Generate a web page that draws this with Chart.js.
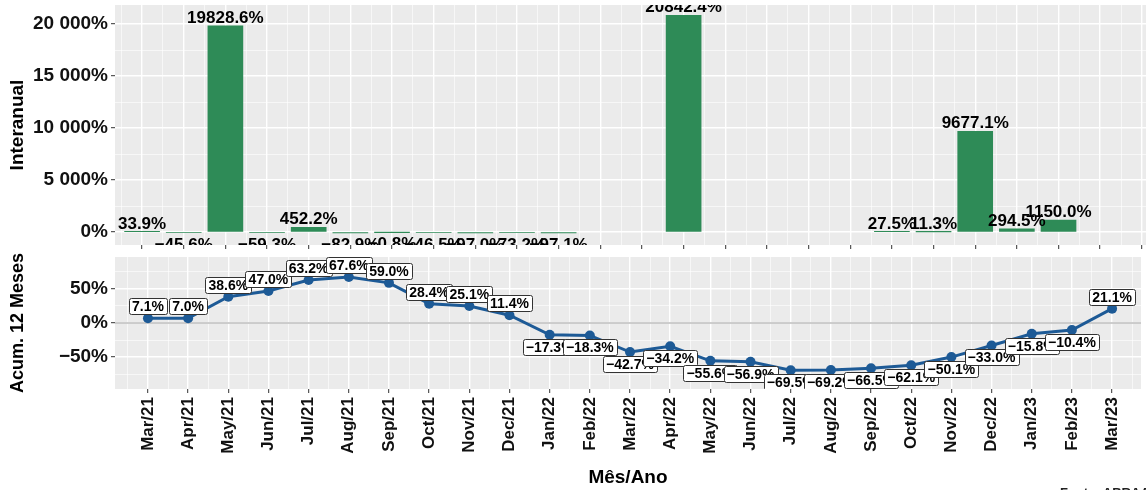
<!DOCTYPE html>
<html>
<head>
<meta charset="utf-8">
<script src="https://cdn.jsdelivr.net/npm/chart.js@4.4.1/dist/chart.umd.min.js"></script>
<style>
  html, body { margin: 0; padding: 0; background: #fff; }
  body { width: 1146px; height: 490px; position: relative; overflow: hidden; font-family: "Liberation Sans", Arial, sans-serif; }
  #top { position: absolute; left: 0; top: 0; }
  #bottom { position: absolute; left: 0; top: 250px; }
  #fonte { position: absolute; left: 1060px; top: 485px; font-weight: bold; font-size: 13px; color: #222; white-space: nowrap; }
</style>
</head>
<body>
<canvas id="top" width="1146" height="250"></canvas>
<canvas id="bottom" width="1146" height="240"></canvas>
<div id="fonte">Fonte: ABRAAL</div>
<script>
// months on the x axis
const months = ["Mar/21", "Apr/21", "May/21", "Jun/21", "Jul/21", "Aug/21", "Sep/21", "Oct/21", "Nov/21", "Dec/21",
  "Jan/22", "Feb/22", "Mar/22", "Apr/22", "May/22", "Jun/22", "Jul/22", "Aug/22", "Sep/22", "Oct/22", "Nov/22", "Dec/22",
  "Jan/23", "Feb/23", "Mar/23"];

// top panel: year-on-year change (%), null = no bar
const interanual = [33.9, -45.6, 19828.6, -59.3, 452.2, -82.9, -0.8, -46.5, -97.0, -73.2,
  -97.1, null, null, 20842.4, null, null, null, null, 27.5, 11.3, 9677.1, 294.5,
  1150.0, null, null];

// bottom panel: 12-month accumulated change (%)
const acum12 = [7.1, 7.0, 38.6, 47.0, 63.2, 67.6, 59.0, 28.4, 25.1, 11.4,
  -17.3, -18.3, -42.7, -34.2, -55.6, -56.9, -69.5, -69.2, -66.5, -62.1, -50.1, -33.0,
  -15.8, -10.4, 21.1];

const topYTicks = [0, 5000, 10000, 15000, 20000];
const bottomYTicks = [-50, 0, 50];

const FONT = "'Liberation Sans', Arial, Helvetica, sans-serif";
const PANEL = '#EBEBEB';
const GREEN = '#2E8B57';
const BLUE = '#1D5A96';
const AXIS_W = 115;

function pct(v) {
  return (v < 0 ? '\u2212' : '') + Math.abs(v).toFixed(1) + '%';
}
function tickPct(v) {
  const s = String(Math.abs(v)).replace(/\B(?=(\d{3})+(?!\d))/g, ' ');
  return (v < 0 ? '\u2212' : '') + s + '%';
}

// major ticks plus minor ones half way between
function withMinor(major, scale) {
  const step = major[1] - major[0];
  const out = [];
  major.forEach(v => { out.push({ value: v - step / 2 }); out.push({ value: v }); });
  out.push({ value: major[major.length - 1] + step / 2 });
  return out.filter(t => t.value >= scale.min && t.value <= scale.max);
}
const monthIdx = months.map((m, i) => i);

function gridOpts(majors) {
  return {
    color: '#fff',
    lineWidth: c => majors.includes(c.tick.value) ? 1.4 : 0.6,
    tickColor: c => majors.includes(c.tick.value) ? '#333' : 'rgba(0,0,0,0)',
    tickWidth: 1,
    tickLength: 4,
  };
}

// no extra room for labels hanging past the panel ends
function fitY(s) { s.width = AXIS_W; s.paddingTop = 0; s.paddingBottom = 0; }

const panelBg = {
  id: 'panelBg',
  beforeDraw(chart) {
    const { ctx, chartArea: a } = chart;
    ctx.save();
    ctx.fillStyle = PANEL;
    ctx.fillRect(a.left, a.top, a.right - a.left, a.bottom - a.top);
    ctx.restore();
  }
};

const barLabels = {
  id: 'barLabels',
  afterDatasetsDraw(chart) {
    const { ctx, chartArea: a } = chart;
    const meta = chart.getDatasetMeta(0);
    const pts = chart.data.datasets[0].data;
    ctx.save();
    ctx.beginPath();
    ctx.rect(a.left, a.top, a.right - a.left, a.bottom - a.top);
    ctx.clip();
    ctx.font = 'bold 17px ' + FONT;
    ctx.fillStyle = '#000';
    ctx.textAlign = 'center';
    meta.data.forEach((el, i) => {
      const v = pts[i].y;
      if (v >= 0) {
        ctx.textBaseline = 'alphabetic';
        ctx.fillText(pct(v), el.x, el.y - 3);
      } else {
        ctx.textBaseline = 'top';
        ctx.fillText(pct(v), el.x, el.y + 4);
      }
    });
    ctx.restore();
  }
};

const zeroLine = {
  id: 'zeroLine',
  beforeDatasetsDraw(chart) {
    const { ctx, chartArea: a, scales } = chart;
    const y = scales.y.getPixelForValue(0);
    ctx.save();
    ctx.strokeStyle = '#BDBDBD';
    ctx.lineWidth = 1.5;
    ctx.beginPath();
    ctx.moveTo(a.left, y);
    ctx.lineTo(a.right, y);
    ctx.stroke();
    ctx.restore();
  }
};

const pointLabels = {
  id: 'pointLabels',
  afterDatasetsDraw(chart) {
    const { ctx, chartArea: a } = chart;
    const meta = chart.getDatasetMeta(0);
    ctx.save();
    ctx.beginPath();
    ctx.rect(a.left, a.top, a.right - a.left, a.bottom - a.top);
    ctx.clip();
    ctx.font = 'bold 14px ' + FONT;
    ctx.textAlign = 'center';
    ctx.textBaseline = 'middle';
    meta.data.forEach((el, i) => {
      const v = acum12[i];
      const t = pct(v);
      const w = Math.round(ctx.measureText(t).width + 6);
      const h = 16;
      const cy = el.y + (v >= 0 ? -12 : 12);
      const x0 = Math.round(el.x - w / 2) + 0.5;
      const y0 = Math.round(cy - h / 2) + 0.5;
      ctx.beginPath();
      ctx.roundRect(x0, y0, w, h, 2);
      ctx.fillStyle = '#fff';
      ctx.fill();
      ctx.lineWidth = 1;
      ctx.strokeStyle = '#333';
      ctx.stroke();
      ctx.fillStyle = '#000';
      ctx.fillText(t, el.x, cy + 1);
    });
    ctx.restore();
  }
};

const yTickFont = { family: FONT, size: 19, weight: 'bold' };

new Chart(document.getElementById('top'), {
  type: 'bar',
  data: {
    datasets: [{
      data: interanual.map((v, i) => ({ x: i, y: v })).filter(p => p.y !== null),
      backgroundColor: GREEN,
      barThickness: 35,
    }]
  },
  options: {
    responsive: false,
    animation: false,
    devicePixelRatio: 1,
    layout: { padding: { top: 5, right: 0, bottom: 0, left: 0 } },
    plugins: { legend: { display: false }, tooltip: { enabled: false } },
    scales: {
      x: {
        type: 'linear', min: -0.65, max: 24.1, offset: false,
        afterBuildTicks: s => { s.ticks = withMinor(monthIdx, s); },
        ticks: { display: false },
        grid: Object.assign(gridOpts(monthIdx), { offset: false }),
        border: { display: false },
        afterFit: s => { s.height = 5; s.paddingLeft = 0; s.paddingRight = 0; }
      },
      y: {
        min: -1250, max: 21830,
        afterBuildTicks: s => { s.ticks = withMinor(topYTicks, s); },
        ticks: {
          callback: v => topYTicks.includes(v) ? tickPct(v) : '',
          autoSkip: false,
          font: yTickFont, color: '#111', padding: 3
        },
        grid: gridOpts(topYTicks),
        border: { display: false },
        title: { display: true, text: 'Interanual', font: { family: FONT, size: 19, weight: 'bold' }, color: '#000', padding: { top: 6, bottom: 0 } },
        afterFit: fitY
      }
    }
  },
  plugins: [panelBg, barLabels]
});

new Chart(document.getElementById('bottom'), {
  type: 'line',
  data: {
    datasets: [{
      data: acum12.map((v, i) => ({ x: i, y: v })),
      borderColor: BLUE,
      borderWidth: 3,
      pointRadius: 5,
      pointBackgroundColor: BLUE,
      pointBorderWidth: 0,
      tension: 0,
    }]
  },
  options: {
    responsive: false,
    animation: false,
    devicePixelRatio: 1,
    layout: { padding: { top: 7, right: 0, bottom: 0, left: 0 } },
    plugins: { legend: { display: false }, tooltip: { enabled: false } },
    scales: {
      x: {
        type: 'linear', min: -0.82, max: 24.72,
        afterBuildTicks: s => { s.ticks = withMinor(monthIdx, s); },
        ticks: {
          callback: v => Number.isInteger(v) ? months[v] : '',
          autoSkip: false, minRotation: 90, maxRotation: 90,
          font: { family: FONT, size: 17, weight: 'bold' }, color: '#111', padding: 4
        },
        grid: gridOpts(monthIdx),
        border: { display: false },
        title: { display: true, text: 'Mês/Ano', font: { family: FONT, size: 19, weight: 'bold' }, color: '#000', padding: { top: 2, bottom: 1 } },
        afterFit: s => { s.height = 101; s.paddingLeft = 0; s.paddingRight = 0; }
      },
      y: {
        min: -97, max: 97,
        afterBuildTicks: s => { s.ticks = withMinor(bottomYTicks, s); },
        ticks: {
          callback: v => bottomYTicks.includes(v) ? tickPct(v) : '',
          autoSkip: false,
          font: yTickFont, color: '#111', padding: 3
        },
        grid: gridOpts(bottomYTicks),
        border: { display: false },
        title: { display: true, text: 'Acum. 12 Meses', font: { family: FONT, size: 18, weight: 'bold' }, color: '#000', padding: { top: 7, bottom: 0 } },
        afterFit: fitY
      }
    }
  },
  plugins: [panelBg, zeroLine, pointLabels]
});
</script>
</body>
</html>
